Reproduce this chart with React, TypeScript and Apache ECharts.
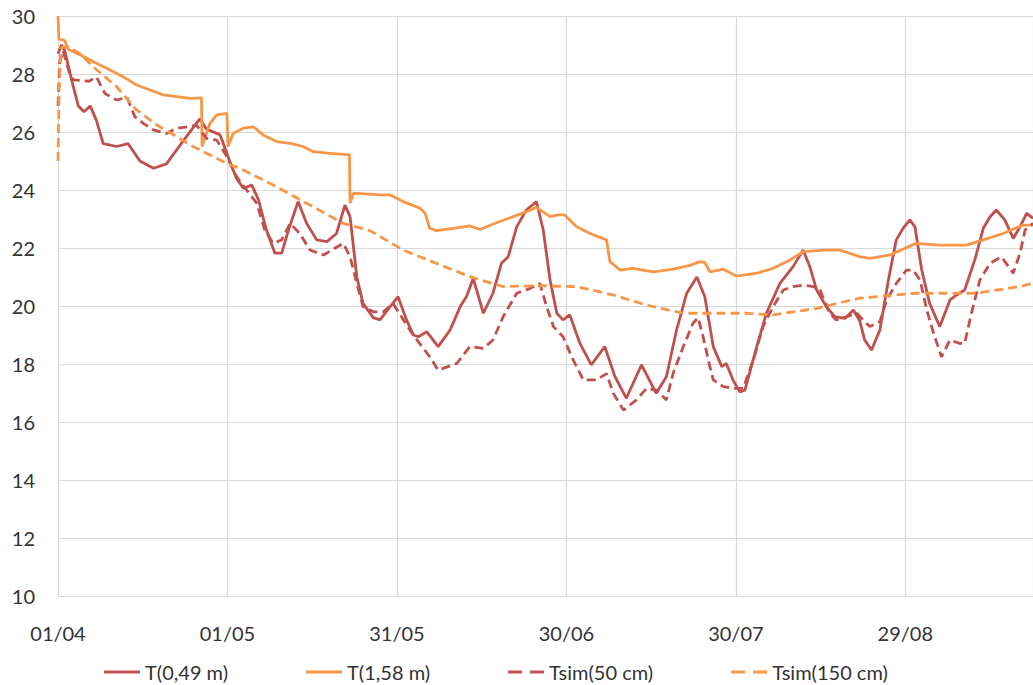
import React, { useEffect, useRef } from "react";
import * as echarts from "echarts";

// x values are days since 01/04
const xTickLabels = ["01/04", "01/05", "31/05", "30/06", "30/07", "29/08"];
const yTicks = [10, 12, 14, 16, 18, 20, 22, 24, 26, 28, 30];

const seriesNames = ["T(0,49 m)", "T(1,58 m)", "Tsim(50 cm)", "Tsim(150 cm)"];

const t049: number[][] = [
  [0, 28.7], [0.6, 29.0], [1.2, 28.8], [2.4, 27.8], [3.6, 26.9], [4.6, 26.7], [5.7, 26.9], [6.8, 26.4],
  [8, 25.6], [10.4, 25.5], [12.4, 25.6], [14.5, 25.0], [16.9, 24.75], [19.2, 24.9], [22.2, 25.7],
  [25.1, 26.45], [26.3, 26.1], [28.7, 25.9], [30.4, 25.0], [31.6, 24.4], [32.8, 24.06], [34.3, 24.17],
  [35.5, 23.66], [36.9, 22.62], [38.4, 21.82], [39.6, 21.82], [40.8, 22.62], [42.5, 23.6], [44, 22.85],
  [45.8, 22.28], [47.6, 22.22], [49.3, 22.5], [50.8, 23.48], [51.7, 23.08], [52.9, 21.0], [54, 20.09],
  [55.8, 19.6], [57, 19.52], [58.8, 19.98], [60.2, 20.32], [61.7, 19.52], [62.9, 19.0], [63.8, 18.94],
  [65.3, 19.11], [67.3, 18.6], [69.4, 19.17], [71.2, 19.98], [72.3, 20.32], [73.5, 20.95], [75.3, 19.75],
  [77, 20.44], [78.5, 21.47], [79.7, 21.7], [81.2, 22.73], [82.9, 23.31], [84.7, 23.6], [85.9, 22.62],
  [87.1, 20.9], [88.3, 19.75], [89.4, 19.52], [90.6, 19.69], [92.4, 18.71], [94.4, 17.97], [96.8, 18.6],
  [98.6, 17.56], [100.6, 16.82], [103.3, 17.97], [105.9, 16.99], [107.7, 17.56], [109.5, 19.17],
  [111.3, 20.44], [113.1, 21.0], [114.5, 20.32], [116, 18.6], [117.5, 17.91], [118.3, 18.02],
  [119.5, 17.45], [120.7, 17.04], [121.6, 17.1], [123.7, 18.6], [125.4, 19.75], [127.8, 20.78],
  [130.1, 21.35], [131.9, 21.93], [133.1, 21.35], [134.3, 20.55], [136, 19.98], [137.5, 19.63],
  [139.3, 19.57], [140.8, 19.86], [141.9, 19.5], [142.8, 18.83], [144, 18.48], [145.5, 19.17],
  [147, 20.9], [148.4, 22.28], [149.6, 22.68], [150.8, 22.97], [151.7, 22.73], [152.9, 21.24],
  [154.3, 20.09], [156.1, 19.29], [157.9, 20.21], [159.1, 20.38], [160.5, 20.55], [162.3, 21.59],
  [163.8, 22.68], [165, 23.08], [166.1, 23.31], [167.6, 22.97], [169.1, 22.33], [170.3, 22.73],
  [171.5, 23.2], [172.6, 23.02],
];

const t158: number[][] = [
  [0, 30.0], [0.15, 29.2], [1.2, 29.15], [1.8, 28.85], [4.5, 28.6], [6.8, 28.37], [9.2, 28.14],
  [11.6, 27.9], [13.9, 27.62], [16.3, 27.45], [18.6, 27.28], [21, 27.22], [23.4, 27.16], [25.4, 27.18],
  [25.5, 25.5], [26.9, 26.3], [28.1, 26.59], [29.9, 26.64], [30.1, 25.5], [31, 25.95], [32.8, 26.13],
  [34.6, 26.18], [36.3, 25.9], [38.7, 25.67], [41.1, 25.61], [43.4, 25.5], [45.2, 25.32], [47.6, 25.27],
  [51.6, 25.21], [51.7, 23.55], [52.3, 23.89], [57, 23.83], [58.8, 23.83], [61.1, 23.6], [64.1, 23.37],
  [65, 23.2], [65.8, 22.68], [67, 22.6], [70, 22.68], [72.9, 22.76], [74.7, 22.64], [77.6, 22.87],
  [80.6, 23.08], [82.9, 23.25], [84.7, 23.4], [87.1, 23.08], [88.6, 23.14], [89.7, 23.14], [91.8, 22.73],
  [94.2, 22.5], [97.1, 22.28], [97.7, 21.53], [99.5, 21.24], [101.8, 21.3], [105.4, 21.18],
  [108.9, 21.27], [111.9, 21.4], [113.6, 21.53], [114.5, 21.5], [115.4, 21.18], [117.8, 21.27],
  [120.1, 21.03], [123.7, 21.13], [126.6, 21.3], [129.6, 21.59], [131.9, 21.87], [135.4, 21.93],
  [138.4, 21.93], [141.9, 21.7], [143.7, 21.64], [147.3, 21.76], [151.9, 22.16], [156.1, 22.1],
  [160.8, 22.1], [163.8, 22.28], [167.3, 22.5], [170.8, 22.79], [172.6, 22.79],
];

const tsim50: number[][] = [
  [0, 26.9], [0.3, 28.4], [0.9, 28.8], [2.1, 28.0], [2.7, 27.8], [5.5, 27.75], [6.8, 27.9], [8.3, 27.33],
  [10.4, 27.1], [12.2, 27.2], [13.6, 26.53], [15.1, 26.3], [16.9, 26.07], [19.2, 25.95], [21, 26.13],
  [23.1, 26.18], [24.5, 26.24], [26.3, 25.78], [28.1, 25.72], [29.9, 25.15], [31.6, 24.46], [33.4, 24.0],
  [35.2, 23.54], [36.6, 22.62], [38.1, 22.16], [39.6, 22.28], [41.1, 22.85], [42.8, 22.5], [44.6, 21.93],
  [47, 21.76], [49, 21.99], [50.5, 22.16], [51.7, 21.7], [52.9, 20.78], [54, 19.98], [55.8, 19.8],
  [57.6, 19.8], [59.3, 20.09], [62.3, 19.17], [64, 18.71], [65.8, 18.25], [67.3, 17.79], [70.6, 18.02],
  [72.9, 18.6], [75.3, 18.54], [77, 18.83], [78.8, 19.63], [81.2, 20.44], [83.5, 20.6], [85.3, 20.78],
  [86.5, 19.98], [87.7, 19.29], [89.4, 18.94], [91.2, 18.14], [93, 17.45], [95.3, 17.45], [97.1, 17.67],
  [98.3, 16.99], [100.1, 16.41], [102.4, 16.76], [104.2, 17.16], [105.9, 17.1], [107.7, 16.76],
  [108.9, 17.68], [110.7, 18.6], [112.4, 19.4], [113.3, 19.6], [114.2, 18.94], [115.4, 17.91],
  [116, 17.45], [117.8, 17.22], [119.5, 17.16], [121.3, 17.16], [123.1, 18.14], [124.8, 19.29],
  [126.6, 19.98], [128.4, 20.55], [130.1, 20.67], [131.9, 20.72], [133.7, 20.67], [134.9, 20.55],
  [136.6, 19.75], [137.8, 19.52], [139.6, 19.63], [141.4, 19.75], [142.5, 19.52], [143.7, 19.29],
  [145.5, 19.46], [146.7, 20.21], [148.4, 20.78], [150.2, 21.24], [151.4, 21.24], [152.6, 20.9],
  [153.8, 19.86], [155, 19.06], [156.4, 18.25], [157.9, 18.83], [159.6, 18.71], [160.5, 18.71],
  [161.7, 19.75], [163.2, 20.9], [165, 21.47], [167, 21.7], [169.1, 21.13], [170.3, 21.82],
  [171.2, 22.62], [172.6, 22.85],
];

const tsim150: number[][] = [
  [0, 25.0], [0.2, 27.5], [0.5, 28.9], [1.5, 28.95], [4, 28.7], [6.2, 28.25], [10.4, 27.56],
  [13.9, 26.76], [17.5, 26.24], [21, 25.84], [23.9, 25.5], [27.5, 25.15], [29.9, 24.92], [32.8, 24.69],
  [38.7, 24.11], [44.6, 23.48], [50.5, 22.85], [55.2, 22.6], [61.1, 21.93], [67, 21.47], [72.9, 21.01],
  [78.8, 20.67], [84.7, 20.7], [91.8, 20.67], [98.3, 20.38], [104.2, 20.03], [110.7, 19.75],
  [121.9, 19.75], [126.6, 19.69], [134.3, 19.92], [141.9, 20.27], [151.9, 20.44], [162.5, 20.44],
  [170.8, 20.69], [172.6, 20.8],
];

const RED = "#C0504D";
const ORANGE = "#F79646";
const FONT = "Lato, 'Open Sans', sans-serif";
const SOLID_ICON = "path://M0,0H36V3H0Z";
const DASH_ICON = "path://M0,0H14V3H0Z M22,0H36V3H22Z";

export default function App() {
  const ref = useRef<HTMLDivElement>(null);
  useEffect(() => {
    if (!ref.current) return;
    const chart = echarts.init(ref.current, undefined, { renderer: "svg" });
    const mk = (name: string, data: number[][], color: string, dashed: boolean) => ({
      name,
      type: "line",
      data,
      symbol: "none",
      showSymbol: false,
      smooth: false,
      lineStyle: { color, width: 2.8, type: dashed ? [9, 5] : "solid" },
      itemStyle: { color },
    });
    chart.setOption({
      animation: false,
      backgroundColor: "#ffffff",
      textStyle: { fontFamily: FONT },
      grid: { left: 58, right: 0, top: 16, bottom: 89, containLabel: false },
      xAxis: {
        type: "value",
        min: 0,
        max: 172.6,
        interval: 30,
        axisLine: { show: false },
        axisTick: { show: false },
        splitLine: { show: true, lineStyle: { color: "#d9d9d9", width: 1.2 } },
        axisLabel: {
          margin: 27,
          fontSize: 20,
          color: "#333",
          fontFamily: FONT,
          showMaxLabel: false,
          formatter: (v: number) => {
            const i = Math.round(v / 30);
            return Math.abs(v - i * 30) < 1e-6 && xTickLabels[i] ? xTickLabels[i] : "";
          },
        },
      },
      yAxis: {
        type: "value",
        min: yTicks[0],
        max: yTicks[yTicks.length - 1],
        interval: 2,
        axisLine: { show: false },
        axisTick: { show: false },
        splitLine: { show: true, lineStyle: { color: "#d9d9d9", width: 1.2 } },
        axisLabel: { margin: 23, fontSize: 20, color: "#333", fontFamily: FONT },
      },
      legend: {
        left: 99,
        top: 657,
        itemWidth: 36,
        itemHeight: 3,
        itemGap: 78,
        textStyle: { fontSize: 20, color: "#333", fontFamily: FONT },
        data: [
          { name: seriesNames[0], icon: SOLID_ICON },
          { name: seriesNames[1], icon: SOLID_ICON },
          { name: seriesNames[2], icon: DASH_ICON },
          { name: seriesNames[3], icon: DASH_ICON },
        ],
      },
      series: [
        mk(seriesNames[0], t049, RED, false),
        mk(seriesNames[1], t158, ORANGE, false),
        mk(seriesNames[2], tsim50, RED, true),
        mk(seriesNames[3], tsim150, ORANGE, true),
      ],
    });
    return () => chart.dispose();
  }, []);
  return (
    <div
      ref={ref}
      style={{ position: "fixed", left: 0, top: 0, width: 1033, height: 685, background: "#fff" }}
    />
  );
}
